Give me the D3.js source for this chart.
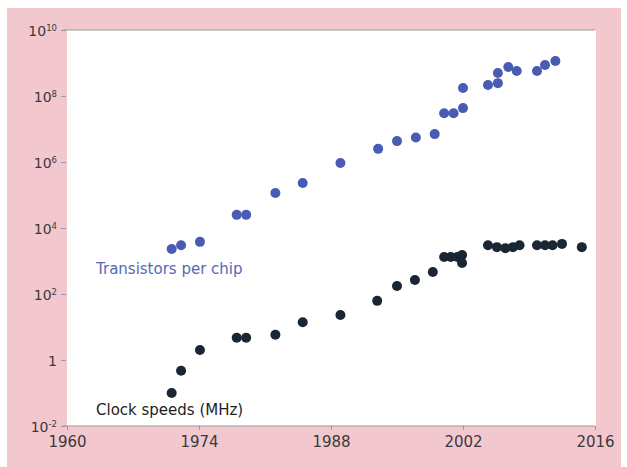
<!DOCTYPE html>
<html>
<head>
<meta charset="utf-8">
<script src="https://cdn.jsdelivr.net/npm/d3@7"></script>
<style>
  html, body { margin: 0; padding: 0; background: #ffffff; }
  svg { display: block; }
  text { font-family: "DejaVu Sans", sans-serif; }
</style>
</head>
<body>
<svg id="chart" width="627" height="467"></svg>
<script>
// ---- Data ----
const xTicks = [1960, 1974, 1988, 2002, 2016];
const yTickExponents = [-2, 0, 2, 4, 6, 8, 10];

const transistorYears = [1971.1, 1972.1, 1974.1, 1978.0, 1979.0, 1982.1, 1985.0, 1989.0, 1993.0, 1995.0, 1997.0, 1999.0,
  2000.0, 2001.0, 2002.0, 2002.0, 2004.65, 2005.7, 2005.7, 2006.8, 2007.7, 2009.85, 2010.7, 2011.8];
const transistorCounts = [2300, 3000, 3800, 25000, 25000, 115000, 230000, 930000, 2.5e6, 4.3e6, 5.5e6, 7.0e6,
  3.0e7, 3.0e7, 4.3e7, 1.75e8, 2.15e8, 2.45e8, 5.0e8, 7.6e8, 5.7e8, 5.7e8, 8.7e8, 1.15e9];

const clockYears = [1971.1, 1972.1, 1974.1, 1978.0, 1979.0, 1982.1, 1985.0, 1989.0, 1992.9, 1995.0, 1996.9, 1998.8,
  2000.0, 2000.7, 2001.4, 2001.9, 2001.9, 2004.65, 2005.6, 2006.5, 2007.3, 2008.0, 2009.85, 2010.7, 2011.5, 2012.5, 2014.6];
const clockMHz = [0.1, 0.47, 2.0, 4.7, 4.7, 5.8, 14, 23, 62, 175, 265, 465,
  1320, 1320, 1320, 1510, 870, 3000, 2630, 2450, 2630, 3000, 3000, 3000, 3000, 3300, 2630];

const seriesLabels = ["Transistors per chip", "Clock speeds (MHz)"];

// ---- Layout ----
const W = 627, H = 467;
const svg = d3.select("#chart");

const x = d3.scaleLinear().domain([1960, 2016]).range([67, 595]);
const y = d3.scaleLog().domain([1e-2, 1e10]).range([426, 30]);

// pink frame
svg.append("rect").attr("x", 7).attr("y", 8).attr("width", 614).attr("height", 459)
  .attr("fill", "#f3c7ce");
// white plot area
svg.append("rect").attr("x", x(1960)).attr("y", y(1e10))
  .attr("width", x(2016) - x(1960) + 1).attr("height", y(1e-2) - y(1e10))
  .attr("fill", "#ffffff");

// top line at 10^10
svg.append("line").attr("x1", x(1960) - 4).attr("x2", x(2016))
  .attr("y1", y(1e10)).attr("y2", y(1e10))
  .attr("stroke", "#9a9a9a").attr("stroke-width", 1.2);

// x axis
const xAxis = d3.axisBottom(x).tickValues(xTicks).tickSize(4).tickPadding(6).tickFormat(d3.format("d"));
const gx = svg.append("g").attr("transform", `translate(0,${y(1e-2)})`).call(xAxis);
gx.select(".domain").attr("stroke", "#9a9a9a").attr("stroke-width", 1.2)
  .attr("d", `M${x(1960) - 4},0H${x(2016)}`);
gx.selectAll(".tick line").attr("stroke", "#9a9a9a");
gx.selectAll(".tick text").attr("fill", "#3a3a3a").style("font-size", "15px")
  .style("font-family", "'DejaVu Sans', sans-serif");

// y axis
const yAxis = d3.axisLeft(y).tickValues(yTickExponents.map(e => Math.pow(10, e))).tickSize(5).tickPadding(4).tickFormat("");
const gy = svg.append("g").attr("transform", `translate(${x(1960) - 1},0)`).call(yAxis);
gy.select(".domain").remove();
gy.selectAll(".tick line").attr("stroke", "#9a9a9a");
gy.selectAll(".tick").each(function(d) {
  const e = Math.round(Math.log10(d));
  const t = d3.select(this).append("text")
    .attr("x", -9).attr("dy", "0.36em")
    .attr("text-anchor", "end").attr("fill", "#3a3a3a")
    .style("font-size", "14px");
  if (e === 0) {
    t.text("1");
  } else {
    t.append("tspan").text("10");
    t.append("tspan").attr("dy", "-0.5em").style("font-size", "8.5px").text(e === -2 ? "-2" : String(e));
  }
});

// dots
const tData = transistorYears.map((yr, i) => ({ yr, v: transistorCounts[i] }));
const cData = clockYears.map((yr, i) => ({ yr, v: clockMHz[i] }));

svg.append("g").selectAll("circle").data(tData).join("circle")
  .attr("cx", d => x(d.yr)).attr("cy", d => y(d.v)).attr("r", 5)
  .attr("fill", "#4a5bb3");

svg.append("g").selectAll("circle").data(cData).join("circle")
  .attr("cx", d => x(d.yr)).attr("cy", d => y(d.v)).attr("r", 5)
  .attr("fill", "#1a2634");

// series labels
svg.append("text").attr("x", 96).attr("y", 274).attr("fill", "#5568b8")
  .style("font-size", "15px").text(seriesLabels[0]);
svg.append("text").attr("x", 96).attr("y", 415).attr("fill", "#1e1e1e")
  .style("font-size", "15px").text(seriesLabels[1]);
</script>
</body>
</html>
